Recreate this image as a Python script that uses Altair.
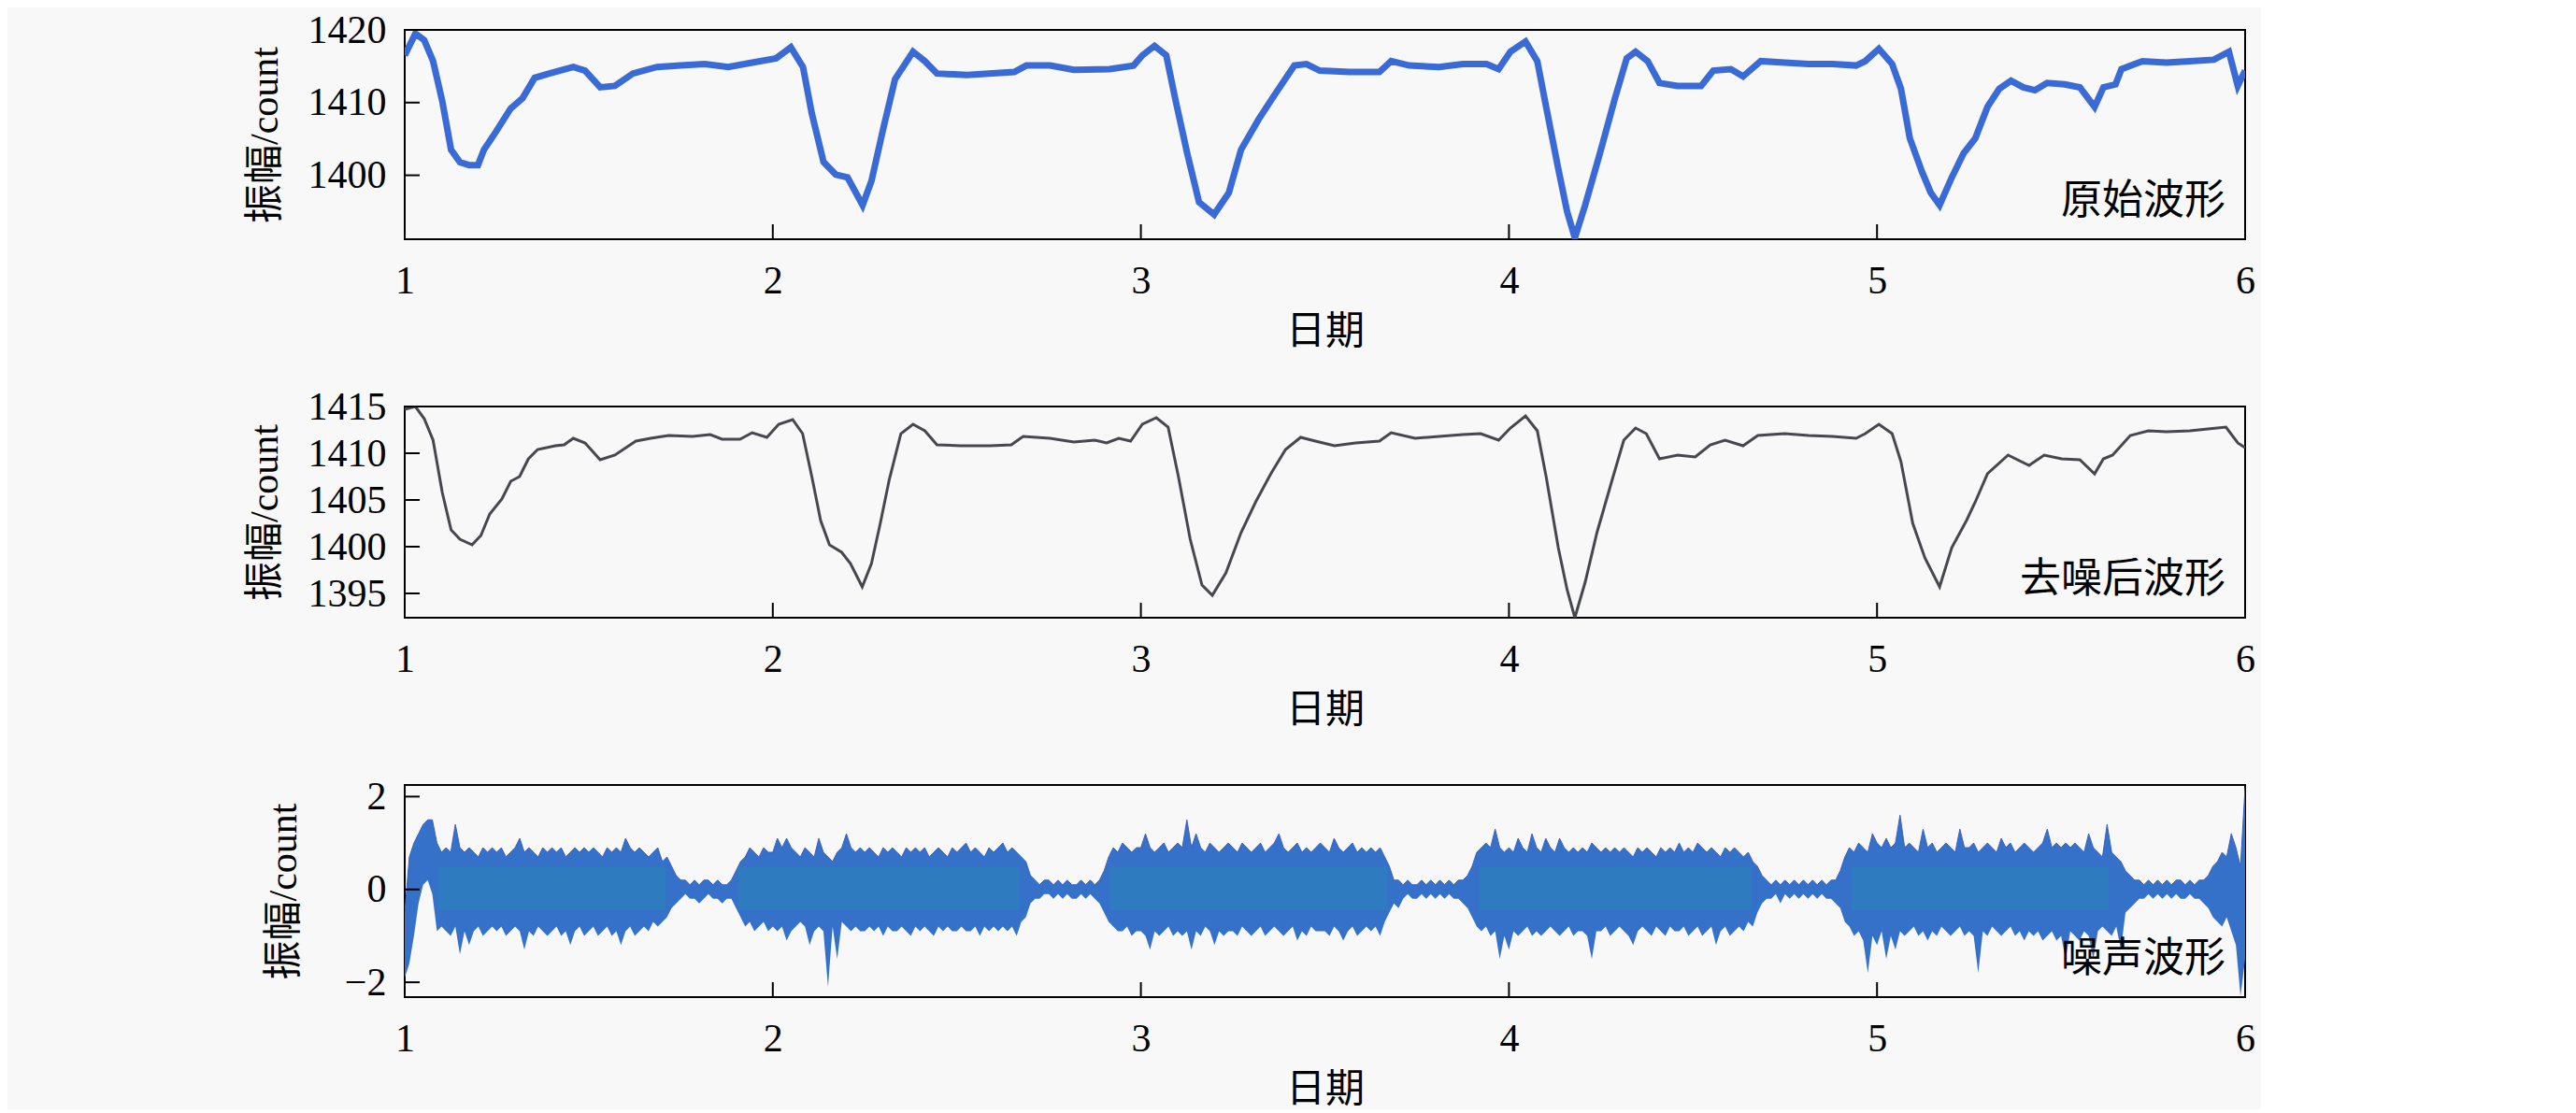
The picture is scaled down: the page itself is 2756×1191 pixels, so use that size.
import altair as alt
import pandas as pd

# ---------------- data ----------------
X_TICKS = [1, 2, 3, 4, 5, 6]
X_INNER_TICKS = [2, 3, 4, 5]

RAW_DAYS = [1.000, 1.029, 1.053, 1.077, 1.102, 1.126, 1.150, 1.175, 1.199, 1.215,
            1.248, 1.288, 1.320, 1.353, 1.393, 1.458, 1.490, 1.531, 1.571, 1.620,
            1.685, 1.750, 1.815, 1.879, 1.944, 2.009, 2.049, 2.082, 2.106, 2.138,
            2.171, 2.203, 2.244, 2.268, 2.300, 2.332, 2.381, 2.413, 2.446, 2.527,
            2.656, 2.689, 2.753, 2.818, 2.915, 2.980, 3.004, 3.037, 3.069, 3.093,
            3.126, 3.158, 3.199, 3.239, 3.272, 3.320, 3.369, 3.417, 3.450, 3.486,
            3.567, 3.648, 3.680, 3.729, 3.810, 3.875, 3.939, 3.972, 4.004, 4.045,
            4.077, 4.101, 4.134, 4.158, 4.179, 4.207, 4.247, 4.288, 4.320, 4.344,
            4.377, 4.409, 4.458, 4.522, 4.555, 4.603, 4.636, 4.684, 4.749, 4.814,
            4.879, 4.943, 4.968, 5.005, 5.041, 5.065, 5.089, 5.122, 5.146, 5.170,
            5.203, 5.235, 5.267, 5.300, 5.332, 5.364, 5.397, 5.429, 5.462, 5.510,
            5.551, 5.591, 5.615, 5.648, 5.664, 5.721, 5.786, 5.850, 5.915, 5.956,
            5.980, 6.000]
RAW_VALS = [1416.5, 1419.5, 1418.6, 1415.7, 1410.2, 1403.5, 1401.8, 1401.4, 1401.4, 1403.5,
            1406.0, 1409.2, 1410.6, 1413.4, 1414.0, 1414.9, 1414.4, 1412.1, 1412.3, 1414.0,
            1414.9, 1415.1, 1415.3, 1414.9, 1415.5, 1416.1, 1417.6, 1414.9, 1408.5, 1401.8,
            1400.1, 1399.7, 1395.9, 1399.2, 1406.4, 1413.2, 1417.0, 1415.7, 1414.0, 1413.8,
            1414.2, 1415.1, 1415.1, 1414.5, 1414.6, 1415.1, 1416.5, 1417.8, 1416.5, 1410.6,
            1403.0, 1396.3, 1394.6, 1397.6, 1403.5, 1407.7, 1411.5, 1415.1, 1415.3, 1414.4,
            1414.2, 1414.2, 1415.7, 1415.1, 1414.9, 1415.3, 1415.3, 1414.6, 1417.0, 1418.4,
            1415.7, 1409.4, 1400.9, 1395.0, 1391.4, 1395.9, 1403.0, 1410.6, 1416.1, 1417.0,
            1415.7, 1412.7, 1412.3, 1412.3, 1414.4, 1414.6, 1413.6, 1415.7, 1415.5, 1415.3,
            1415.3, 1415.1, 1415.7, 1417.4, 1415.3, 1411.9, 1405.1, 1400.5, 1397.6, 1395.9,
            1399.7, 1403.0, 1405.1, 1409.4, 1411.9, 1413.0, 1412.1, 1411.7, 1412.7, 1412.5,
            1412.1, 1409.4, 1412.1, 1412.5, 1414.6, 1415.7, 1415.5, 1415.7, 1415.9, 1417.0,
            1412.3, 1414.4]

DEN_DAYS = [1.000, 1.029, 1.053, 1.077, 1.102, 1.126, 1.150, 1.183, 1.207, 1.231,
            1.264, 1.288, 1.312, 1.336, 1.361, 1.409, 1.433, 1.458, 1.490, 1.531,
            1.571, 1.628, 1.668, 1.717, 1.782, 1.830, 1.862, 1.911, 1.944, 1.984,
            2.016, 2.054, 2.081, 2.106, 2.130, 2.154, 2.187, 2.211, 2.243, 2.268,
            2.292, 2.316, 2.348, 2.381, 2.413, 2.446, 2.510, 2.591, 2.648, 2.680,
            2.753, 2.818, 2.875, 2.907, 2.940, 2.972, 3.004, 3.042, 3.074, 3.102,
            3.134, 3.166, 3.194, 3.231, 3.272, 3.312, 3.353, 3.393, 3.434, 3.474,
            3.526, 3.583, 3.648, 3.680, 3.745, 3.810, 3.875, 3.923, 3.972, 4.004,
            4.045, 4.077, 4.101, 4.134, 4.158, 4.179, 4.207, 4.239, 4.280, 4.312,
            4.344, 4.373, 4.409, 4.458, 4.506, 4.547, 4.587, 4.636, 4.676, 4.749,
            4.814, 4.879, 4.943, 4.968, 5.005, 5.041, 5.065, 5.097, 5.130, 5.170,
            5.203, 5.243, 5.267, 5.300, 5.356, 5.413, 5.454, 5.502, 5.551, 5.591,
            5.615, 5.640, 5.688, 5.737, 5.786, 5.850, 5.899, 5.948, 5.980, 6.000]
DEN_VALS = [1414.7, 1415.0, 1413.7, 1411.4, 1405.8, 1401.8, 1400.8, 1400.2, 1401.2, 1403.5,
            1405.1, 1407.0, 1407.5, 1409.4, 1410.4, 1410.8, 1410.9, 1411.6, 1411.1, 1409.3,
            1409.8, 1411.3, 1411.6, 1411.9, 1411.8, 1412.0, 1411.5, 1411.5, 1412.2, 1411.7,
            1413.1, 1413.6, 1412.1, 1407.5, 1402.8, 1400.2, 1399.4, 1398.2, 1395.7, 1398.2,
            1402.5, 1407.1, 1412.1, 1413.1, 1412.4, 1410.9, 1410.8, 1410.8, 1410.9, 1411.8,
            1411.6, 1411.2, 1411.4, 1411.1, 1411.6, 1411.3, 1413.1, 1413.8, 1412.8, 1407.5,
            1400.8, 1395.9, 1394.8, 1397.2, 1401.5, 1404.8, 1407.8, 1410.4, 1411.7, 1411.3,
            1410.8, 1411.1, 1411.3, 1412.2, 1411.6, 1411.8, 1412.0, 1412.1, 1411.4, 1412.7,
            1414.0, 1412.4, 1407.5, 1399.9, 1395.4, 1392.4, 1396.2, 1401.5, 1407.1, 1411.4,
            1412.7, 1412.1, 1409.4, 1409.8, 1409.6, 1410.9, 1411.4, 1410.8, 1411.9, 1412.1,
            1411.9, 1411.8, 1411.6, 1412.1, 1413.1, 1412.1, 1409.1, 1402.5, 1398.8, 1395.7,
            1399.9, 1402.8, 1404.8, 1407.8, 1409.8, 1408.7, 1409.8, 1409.4, 1409.3, 1407.8,
            1409.4, 1409.8, 1411.9, 1412.4, 1412.3, 1412.4, 1412.6, 1412.8, 1411.1, 1410.6]

# noise envelope, one column every 0.0125 day from 1 to 6, values in tenths of a count
NOISE_START, NOISE_STEP = 1.0, 0.0125
NOISE_HI = [
    -5, 7, 10, 12, 14, 15, 15, 10, 8, 9, 8, 14, 9, 8, 9, 8, 7, 9, 8, 9,
    8, 9, 7, 8, 9, 11, 8, 9, 8, 7, 9, 8, 9, 8, 9, 7, 8, 9, 8, 9,
    8, 9, 8, 7, 9, 8, 9, 8, 11, 9, 8, 9, 8, 7, 8, 9, 6, 7, 5, 3,
    2, 2, 1, 2, 1, 2, 2, 1, 2, 1, 1, 2, 4, 6, 7, 9, 8, 7, 9, 8,
    8, 11, 9, 11, 9, 8, 7, 9, 8, 7, 11, 8, 7, 6, 8, 9, 12, 9, 8, 9,
    8, 9, 8, 7, 9, 8, 9, 8, 7, 9, 8, 9, 8, 9, 7, 8, 9, 8, 7, 9,
    8, 9, 10, 8, 9, 8, 7, 9, 8, 9, 10, 8, 9, 8, 7, 6, 3, 2, 1, 2,
    2, 1, 2, 1, 2, 1, 1, 2, 1, 2, 1, 2, 4, 7, 9, 8, 10, 9, 8, 9,
    9, 12, 9, 8, 9, 10, 8, 9, 10, 9, 15, 9, 12, 9, 8, 10, 9, 8, 9, 10,
    9, 8, 10, 9, 8, 9, 10, 8, 9, 10, 12, 9, 8, 9, 10, 8, 9, 8, 9, 10,
    9, 8, 11, 9, 8, 9, 10, 8, 9, 8, 9, 8, 9, 7, 5, 2, 2, 1, 2, 1,
    1, 2, 1, 2, 1, 2, 1, 2, 1, 2, 2, 3, 5, 8, 9, 10, 9, 13, 9, 8,
    9, 8, 11, 9, 8, 12, 9, 8, 11, 9, 8, 11, 9, 8, 9, 8, 9, 8, 10, 9,
    8, 9, 8, 9, 8, 9, 8, 7, 9, 8, 9, 8, 7, 9, 8, 9, 8, 10, 8, 9,
    8, 10, 9, 8, 9, 8, 7, 9, 8, 9, 8, 7, 8, 6, 5, 3, 2, 1, 2, 1,
    2, 1, 2, 1, 2, 1, 2, 1, 2, 1, 2, 2, 4, 7, 9, 8, 10, 9, 8, 12,
    10, 9, 11, 9, 10, 16, 9, 10, 9, 8, 13, 9, 10, 8, 9, 10, 9, 8, 13, 9,
    9, 10, 8, 9, 10, 9, 8, 11, 9, 10, 8, 9, 10, 9, 8, 9, 10, 13, 9, 10,
    9, 10, 9, 10, 9, 8, 12, 9, 8, 7, 14, 8, 7, 6, 4, 3, 2, 2, 1, 2,
    1, 2, 1, 2, 1, 2, 2, 1, 2, 1, 2, 2, 3, 5, 6, 8, 7, 12, 9, 5,
    22]
NOISE_LO = [
    -19, -16, -10, -3, 1, 2, -1, -9, -8, -9, -10, -8, -14, -9, -12, -9, -8, -10, -9, -8,
    -9, -8, -10, -9, -8, -9, -13, -9, -10, -8, -9, -10, -9, -8, -10, -9, -12, -9, -8, -10,
    -9, -8, -10, -9, -8, -10, -9, -12, -9, -8, -10, -9, -8, -9, -7, -8, -7, -6, -4, -3,
    -2, -1, -2, -2, -3, -2, -1, -2, -2, -3, -2, -2, -4, -6, -8, -7, -9, -8, -7, -9,
    -8, -9, -8, -11, -9, -8, -7, -8, -12, -9, -8, -9, -21, -8, -15, -7, -8, -9, -8, -9,
    -9, -8, -9, -8, -10, -8, -9, -9, -8, -9, -10, -8, -9, -8, -9, -10, -8, -9, -8, -9,
    -9, -8, -9, -9, -8, -10, -8, -9, -8, -9, -8, -9, -8, -10, -7, -6, -3, -2, -2, -1,
    -1, -2, -1, -2, -1, -2, -2, -1, -2, -1, -2, -3, -5, -7, -8, -9, -9, -8, -10, -9,
    -9, -10, -13, -9, -10, -9, -8, -10, -9, -10, -9, -13, -9, -10, -8, -9, -12, -9, -10, -9,
    -9, -10, -8, -9, -10, -9, -8, -10, -9, -8, -9, -10, -9, -8, -11, -9, -10, -8, -9, -9,
    -9, -10, -8, -9, -11, -9, -8, -10, -9, -8, -9, -8, -10, -7, -5, -3, -4, -2, -1, -2,
    -2, -1, -2, -1, -2, -1, -2, -1, -2, -2, -3, -4, -6, -8, -9, -8, -10, -9, -15, -10,
    -13, -9, -10, -9, -8, -10, -9, -10, -9, -8, -9, -10, -9, -8, -10, -9, -9, -10, -15, -9,
    -9, -8, -10, -9, -8, -9, -10, -12, -9, -8, -9, -10, -8, -9, -10, -8, -9, -9, -8, -10,
    -9, -8, -10, -9, -8, -12, -9, -8, -10, -9, -8, -9, -7, -8, -5, -3, -2, -2, -1, -3,
    -1, -2, -1, -2, -1, -2, -1, -2, -1, -2, -2, -3, -4, -7, -8, -10, -9, -11, -18, -10,
    -12, -9, -15, -10, -13, -9, -10, -9, -8, -10, -9, -11, -9, -10, -8, -9, -10, -9, -8, -10,
    -9, -10, -18, -9, -10, -8, -9, -10, -9, -8, -10, -9, -11, -9, -10, -9, -11, -10, -9, -11,
    -10, -15, -9, -10, -11, -9, -10, -15, -9, -8, -9, -10, -8, -13, -5, -4, -3, -2, -2, -1,
    -2, -1, -2, -1, -2, -1, -2, -2, -1, -2, -2, -3, -4, -6, -7, -8, -6, -9, -12, -23,
    -15]

# dense solid core of the noise bursts
CORE_START = [1.09, 1.905, 2.915, 3.92, 4.93]
CORE_END = [1.71, 2.67, 3.67, 4.66, 5.63]
CORE_HI = [0.49, 0.49, 0.49, 0.49, 0.49]
CORE_LO = [-0.45, -0.45, -0.45, -0.45, -0.45]

Y_TICKS_RAW = [1400, 1410, 1420]
Y_TICKS_DEN = [1395, 1400, 1405, 1410, 1415]
Y_TICKS_NOISE = [-2, 0, 2]
Y_DOMAIN_RAW = [1391.2, 1420]
Y_DOMAIN_DEN = [1392.4, 1415]
Y_DOMAIN_NOISE = [-2.32, 2.25]
PANEL_LABELS = ["原始波形", "去噪后波形", "噪声波形"]
Y_TITLE = "振幅/count"
X_TITLE = "日期"

# ---------------- tables ----------------
raw_df = pd.DataFrame({"day": RAW_DAYS, "amp": RAW_VALS})
den_df = pd.DataFrame({"day": DEN_DAYS, "amp": DEN_VALS})
noise_df = pd.DataFrame({
    "day": [NOISE_START + NOISE_STEP * i for i in range(len(NOISE_HI))],
    "amp": [v / 10 for v in NOISE_HI],
    "lo": [v / 10 for v in NOISE_LO],
})
core_df = pd.DataFrame({"day": CORE_START, "day2": CORE_END, "amp": CORE_HI, "lo": CORE_LO})

W = 1969
CJK = "Noto Sans CJK SC"
SERIF = "Liberation Serif"
MIXED = "Liberation Serif, Noto Sans CJK SC"

XS = alt.Scale(domain=[1, 6], nice=False, zero=False)
AX_X = alt.Axis(values=X_TICKS, format="d", title=X_TITLE)


def panel(main_marks, h, ydomain, yticks, label, ytitle_pad=24):
    ys = alt.Scale(domain=ydomain, nice=False, zero=False)
    ax_y = alt.Axis(values=yticks, format="d", title=Y_TITLE, titlePadding=ytitle_pad)
    layers = []
    for m, extra in main_marks:
        layers.append(m.encode(
            x=alt.X("day:Q", scale=XS, axis=AX_X),
            y=alt.Y("amp:Q", scale=ys, axis=ax_y), **extra))
    ytick = alt.Chart(pd.DataFrame({"amp": yticks})).mark_rule(
        color="black", strokeWidth=2).encode(
        y=alt.Y("amp:Q", scale=ys, axis=ax_y),
        x=alt.value(0), x2=alt.value(16))
    xtick = alt.Chart(pd.DataFrame({"day": X_INNER_TICKS})).mark_rule(
        color="black", strokeWidth=2).encode(
        x=alt.X("day:Q", scale=XS, axis=AX_X),
        y=alt.value(h), y2=alt.value(h - 16))
    text = alt.Chart(pd.DataFrame({"label": [label]})).mark_text(
        align="right", baseline="bottom", font=CJK, fontSize=44, color="black"
    ).encode(x=alt.value(W - 21), y=alt.value(h - 18), text="label:N")
    return alt.layer(*layers, ytick, xtick, text).properties(width=W, height=h)


p1 = panel([(alt.Chart(raw_df).mark_line(color="#3a6ad6", strokeWidth=7, clip=True), {})],
           224, Y_DOMAIN_RAW, Y_TICKS_RAW, PANEL_LABELS[0])
p2 = panel([(alt.Chart(den_df).mark_line(color="#46484d", strokeWidth=3, clip=True), {})],
           226, Y_DOMAIN_DEN, Y_TICKS_DEN, PANEL_LABELS[1])
p3 = panel([
    (alt.Chart(noise_df).mark_area(color="#3571c9", opacity=1, fillOpacity=1,
                                   line={"color": "#3a5fc6", "strokeWidth": 1}, clip=True),
     {"y2": "lo:Q"}),
    (alt.Chart(core_df).mark_rect(color="#2f7bbf", clip=True),
     {"x2": "day2:Q", "y2": "lo:Q"}),
], 227, Y_DOMAIN_NOISE, Y_TICKS_NOISE, PANEL_LABELS[2], ytitle_pad=43)

chart = alt.vconcat(p1, p2, p3, spacing=179, bounds="flush").properties(
    padding={"left": 253, "top": 2, "right": 5, "bottom": 0},
    background="#f8f8f8",
).configure_view(
    stroke="black", strokeWidth=2, fill="#f8f8f8"
).configure_axis(
    labelFont=SERIF, labelFontSize=42, labelColor="black",
    titleFont=MIXED, titleFontSize=42, titleFontWeight="normal", titleColor="black",
    domain=False, ticks=False, grid=False, labelFlush=False,
).configure_axisX(
    labelPadding=24, titlePadding=13,
).configure_axisY(
    labelPadding=20,
)

chart.save("out.html", embed_options={"renderer": "svg", "actions": False})
